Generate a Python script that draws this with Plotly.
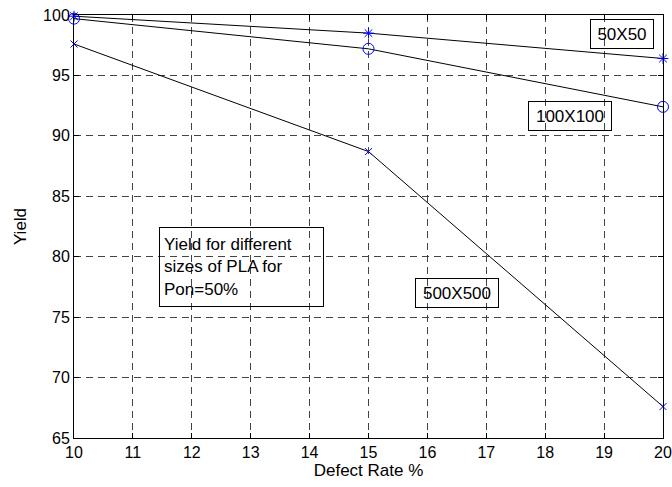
import plotly.graph_objects as go

# Defect rate (%) on the x axis
defect_rate = [10, 15, 20]

# Yield (%) for each PLA size
yield_50 = [99.9, 98.5, 96.4]
yield_100 = [99.7, 97.2, 92.4]
yield_500 = [97.6, 88.7, 67.6]

x_ticks = list(range(10, 21))
y_ticks = list(range(65, 101, 5))

FONT = "Liberation Sans, Arial, Helvetica, sans-serif"
BLUE = "#0000ff"

fig = go.Figure()

series = [
    (yield_50, "asterisk-open", 9),
    (yield_100, "circle-open", 11),
    (yield_500, "x-thin-open", 7),
]
for ys, sym, size in series:
    fig.add_trace(go.Scatter(
        x=defect_rate, y=ys, mode="lines+markers",
        line=dict(color="black", width=1),
        marker=dict(symbol=sym, size=size, color=BLUE,
                    line=dict(color=BLUE, width=1)),
        cliponaxis=False, showlegend=False,
    ))

axis_common = dict(
    showline=True, mirror="ticks", linecolor="black", linewidth=1,
    ticks="inside", ticklen=5, tickcolor="black",
    showgrid=True, gridcolor="#444444", gridwidth=1, griddash="7px,5px",
    zeroline=False, automargin=False,
    tickfont=dict(family=FONT, size=16, color="black"),
)

fig.update_xaxes(range=[10, 20], tickvals=x_ticks, ticktext=[str(v) for v in x_ticks],
                 title=dict(text="Defect Rate %", font=dict(family=FONT, size=17, color="black"),
                            standoff=2),
                 **axis_common)
fig.update_yaxes(range=[65, 100], tickvals=y_ticks, ticktext=[str(v) for v in y_ticks],
                 title=dict(text="Yield", font=dict(family=FONT, size=17, color="black"),
                            standoff=12),
                 **axis_common)

box = dict(showarrow=False, bordercolor="black", borderwidth=1,
           font=dict(family=FONT, size=17, color="black"), xref="x", yref="y")
fig.add_annotation(x=19.30, y=98.44, text="50X50", width=56, height=22, borderpad=3, **box)
fig.add_annotation(x=18.42, y=91.64, text="100X100", width=76, height=22, borderpad=3, **box)
fig.add_annotation(x=16.51, y=76.97, text="500X500", width=76, height=22, borderpad=3, **box)
fig.add_annotation(x=12.84, y=79.16,
                   text="Yield for different<br>sizes of PLA for<br>Pon=50%",
                   align="left", width=155, height=70, borderpad=4, **box)

fig.update_layout(
    width=672, height=487,
    margin=dict(l=74, r=9, t=15, b=49),
    paper_bgcolor="white", plot_bgcolor="white",
    font=dict(family=FONT, color="black"),
)

fig.write_html("out.html")
